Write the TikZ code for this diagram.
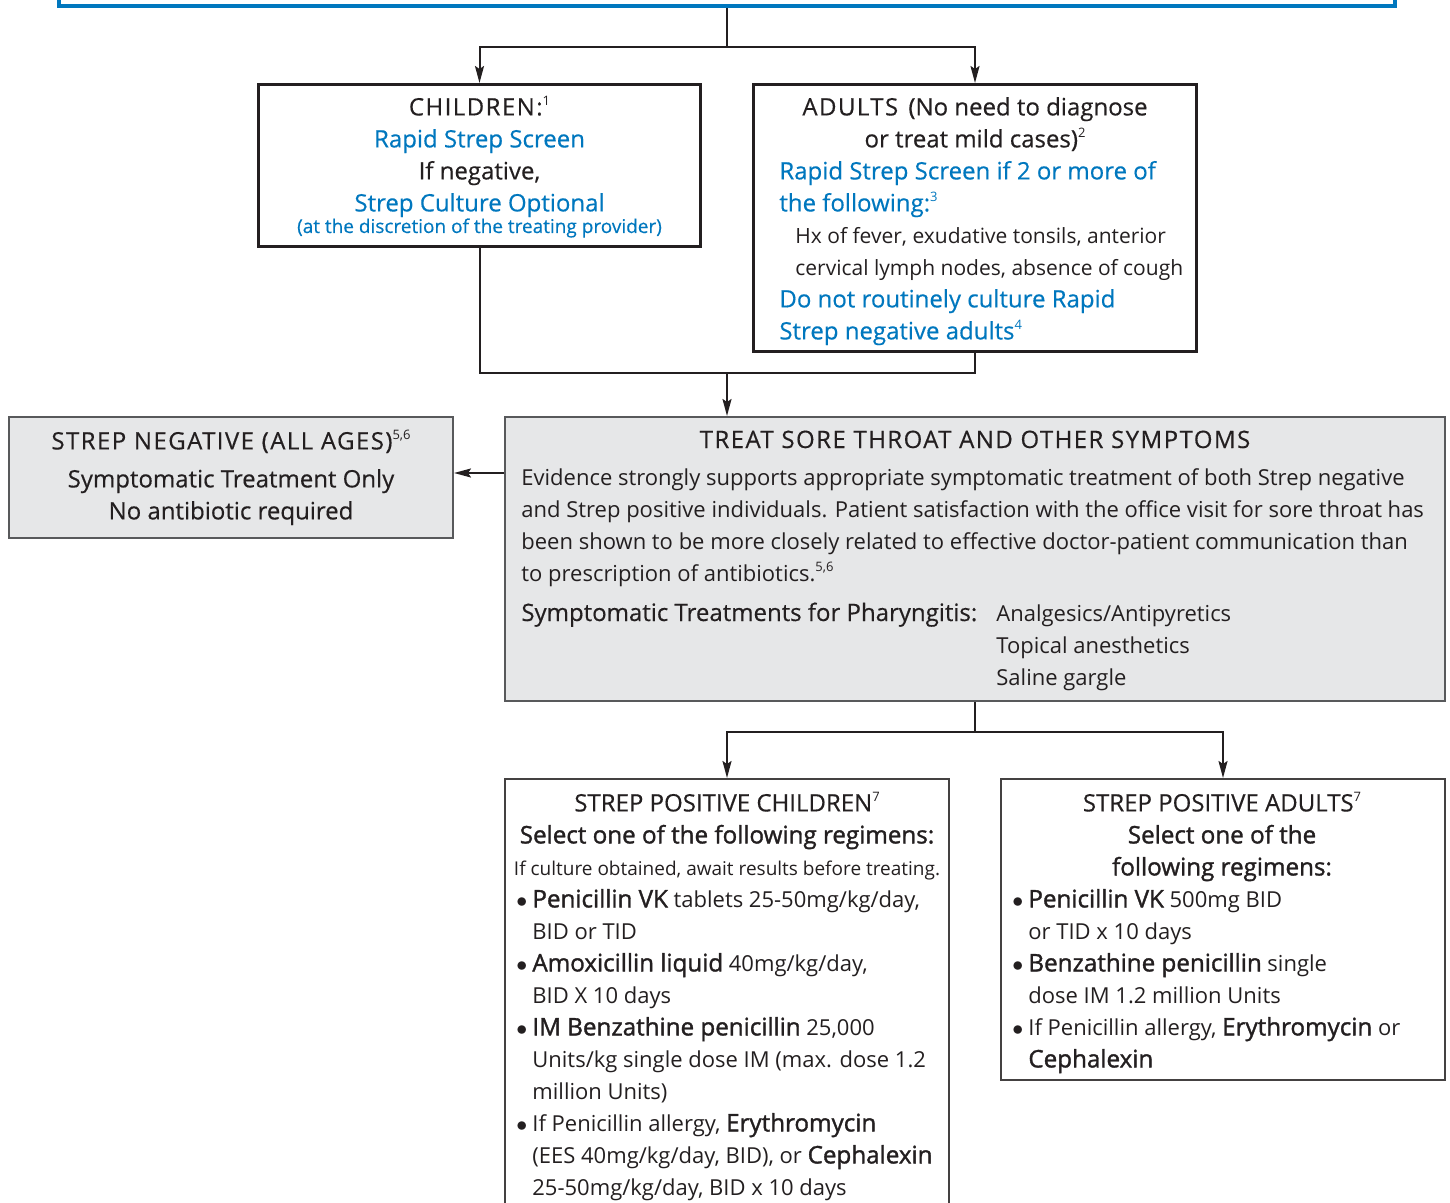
\documentclass[tikz,border=0pt]{standalone}
\usepackage{fontspec}
\setmainfont{Open Sans}
\newfontfamily\lightfont{Open Sans}
\newfontfamily\regfont{Open Sans}[FakeBold=0.4]
\newfontfamily\medfont{Open Sans}[FakeBold=1.4]
\newfontfamily\capsfont{Open Sans}[FakeBold=0.4, LetterSpace=6]
\usetikzlibrary{arrows.meta}

\definecolor{ink}{RGB}{35,31,32}
\definecolor{stblue}{RGB}{0,119,190}
\definecolor{boxgrey}{RGB}{230,231,232}
\definecolor{edgegrey}{RGB}{88,89,91}

\newcommand{\regsize}{\fontsize{12}{16}\selectfont}
\newcommand{\lightsize}{\fontsize{11}{16}\selectfont}
\newcommand{\hxsize}{\fontsize{10.5}{16}\selectfont}
\newcommand{\medsize}{\fontsize{12.1}{16}\selectfont}
\newcommand{\notesize}{\fontsize{9.5}{16}\selectfont}
\newcommand{\fnote}[1]{\raisebox{0.8ex}{\lightfont\fontsize{6.5}{6}\selectfont #1}}
\newcommand{\bitem}{\llap{$\bullet$\hspace{2.5pt}}}

\tikzset{
  LineStyle/.style = {draw=ink, line width=1pt},
  ArrowStyle/.style = {LineStyle, -{Stealth[length=8.5pt, width=4.5pt, inset=1.5pt]}},
  FrameStyle/.style = {rectangle, draw=ink, line width=1.5pt, inner sep=0pt},
  GreyStyle/.style = {rectangle, draw=edgegrey, fill=boxgrey, line width=1pt, inner sep=0pt},
  PlainStyle/.style = {rectangle, draw=ink!85, line width=1pt, inner sep=0pt},
  TextStyle/.style = {inner sep=0pt, text=ink},
}

\begin{document}
\begin{tikzpicture}[x=0.5pt, y=-0.5pt]
  \useasboundingbox (0,0) rectangle (1450,1203);

  % boxes
  \node[FrameStyle, draw=stblue, line width=2.4pt, minimum width=668pt, minimum height=30pt] (top) at (727,-24) {};
  \node[FrameStyle, minimum width=221pt, minimum height=81pt] (children) at (479.5,165.5) {};
  \node[FrameStyle, minimum width=221.5pt, minimum height=133.5pt] (adults) at (975,218) {};
  \node[GreyStyle, minimum width=222pt, minimum height=60.5pt] (stneg) at (231,477.5) {};
  \node[GreyStyle, minimum width=470pt, minimum height=142pt] (treat) at (975,559) {};
  \node[PlainStyle, minimum width=222pt, minimum height=240.5pt] (poschild) at (727,1019.5) {};
  \node[PlainStyle, minimum width=222pt, minimum height=150.5pt] (posadult) at (1223,929.5) {};

  % connectors
  \coordinate (split) at (727,47);
  \coordinate (merge) at (727,373);
  \coordinate (negrow) at (480,473);
  \coordinate (fork) at (975,732);
  \draw[LineStyle] (top.south) -- (split);
  \draw[ArrowStyle] (split) -| (children.north);
  \draw[ArrowStyle] (split) -| (adults.north);
  \draw[LineStyle] (children.south) |- (merge) -| (adults.south);
  \draw[ArrowStyle] (merge) -- (merge |- treat.north);
  \draw[ArrowStyle] (treat.west |- negrow) -- (stneg.east |- negrow);
  \draw[LineStyle] (treat.south) -- (fork);
  \draw[ArrowStyle] (fork) -| (poschild.north);
  \draw[ArrowStyle] (fork) -| (posadult.north);

  % children
  \node[TextStyle, anchor=north, align=center, font=\regfont\regsize] (chtext) at (479.5,92.6)
    {\strut{\capsfont CHILDREN:}\fnote{1}\\
     {\color{stblue}Rapid Strep Screen}\\
     If negative,\\
     {\color{stblue}Strep Culture Optional}};
  \node[TextStyle, anchor=base, text=stblue, font=\regfont\notesize] (chnote) at (479.5,233)
    {(at the discretion of the treating provider)};

  % adults
  \node[TextStyle, anchor=north, align=center, font=\regfont\regsize] (adhead) at (975,92.6)
    {\strut{\capsfont ADULTS}\, (No need to diagnose\\
     or treat mild cases)\fnote{2}};
  \node[TextStyle, anchor=north west, align=left, text=stblue, font=\regfont\regsize] (adbody) at (779,156.6)
    {\strut Rapid Strep Screen if 2 or more of\\
     the following:\fnote{3}\\
     \hspace*{8pt}{\color{ink}\lightfont\hxsize Hx of fever, exudative tonsils, anterior}\\
     \hspace*{8pt}{\color{ink}\lightfont\hxsize cervical lymph nodes, absence of cough}\\
     Do not routinely culture Rapid\\
     Strep negative adults\fnote{4}};

  % strep negative
  \node[TextStyle, anchor=north, align=center, font=\regfont\regsize] (negtext) at (231,426.6)
    {\strut{\capsfont STREP NEGATIVE (ALL AGES)}\fnote{5,6}\\[3pt]
     Symptomatic Treatment Only\\
     No antibiotic required};

  % treat sore throat
  \node[TextStyle, anchor=base, font=\capsfont\regsize] (treathead) at (975,448)
    {TREAT SORE THROAT AND OTHER SYMPTOMS};
  \node[TextStyle, anchor=north west, align=left, font=\lightfont\lightsize] (treatbody) at (521,462.6)
    {\strut Evidence strongly supports appropriate symptomatic treatment of both Strep negative\\
     and Strep positive individuals. Patient satisfaction with the office visit for sore throat has\\
     been shown to be more closely related to effective doctor-patient communication than\\
     to prescription of antibiotics.\fnote{5,6}};
  \node[TextStyle, anchor=base west, font=\regfont\regsize] (symlabel) at (521,621)
    {Symptomatic Treatments for Pharyngitis:};
  \node[TextStyle, anchor=north west, align=left, font=\lightfont\lightsize] (symlist) at (996,598.6)
    {\strut Analgesics/Antipyretics\\
     Topical anesthetics\\
     Saline gargle};

  % strep positive children
  \node[TextStyle, anchor=north, align=center, font=\regfont\regsize] (pchead) at (727,788.6)
    {\strut STREP POSITIVE CHILDREN\fnote{7}\\
     {\medfont\medsize Select one of the following regimens:}\\
     {\lightfont\notesize If culture obtained, await results before treating.}};
  \node[TextStyle, anchor=north west, align=left, font=\lightfont\lightsize] (pclist) at (532,884.6)
    {\strut\bitem{\medfont\medsize Penicillin VK} tablets 25-50mg/kg/day,\\
     BID or TID\\
     \bitem{\medfont\medsize Amoxicillin liquid} 40mg/kg/day,\\
     BID X 10 days\\
     \bitem{\medfont\medsize IM Benzathine penicillin} 25,000\\
     Units/kg single dose IM (max. dose 1.2\\
     million Units)\\
     \bitem If Penicillin allergy, {\medfont\medsize Erythromycin}\\
     (EES 40mg/kg/day, BID), or {\medfont\medsize Cephalexin}\\
     25-50mg/kg/day, BID x 10 days};

  % strep positive adults
  \node[TextStyle, anchor=north, align=center, font=\regfont\regsize] (pahead) at (1222,788.6)
    {\strut STREP POSITIVE ADULTS\fnote{7}\\
     {\medfont\medsize Select one of the}\\
     {\medfont\medsize following regimens:}};
  \node[TextStyle, anchor=north west, align=left, font=\lightfont\lightsize] (palist) at (1028,884.6)
    {\strut\bitem{\medfont\medsize Penicillin VK} 500mg BID\\
     or TID x 10 days\\
     \bitem{\medfont\medsize Benzathine penicillin} single\\
     dose IM 1.2 million Units\\
     \bitem If Penicillin allergy, {\medfont\medsize Erythromycin} or\\
     {\medfont\medsize Cephalexin}};
\end{tikzpicture}
\end{document}
